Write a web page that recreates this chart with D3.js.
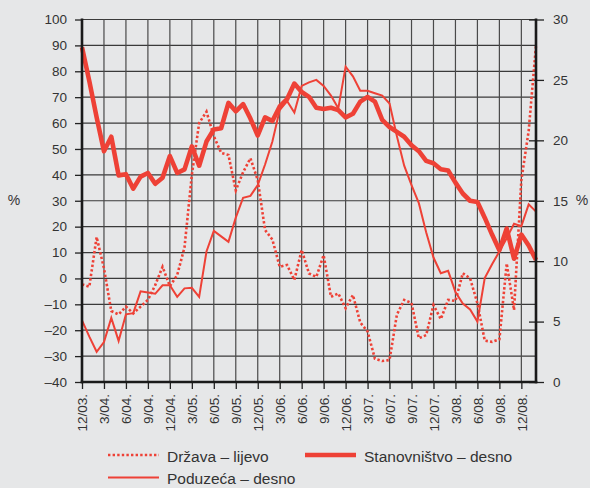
<!DOCTYPE html>
<html>
<head>
<meta charset="utf-8">
<script src="https://cdn.jsdelivr.net/npm/d3@7"></script>
<style>
html,body{margin:0;padding:0;background:#e6e7e8;}
svg{display:block;font-family:"Liberation Sans",Arial,Helvetica,sans-serif;}
</style>
</head>
<body>
<svg id="chart" width="590" height="488"></svg>
<script>
// Months: Dec 2003 .. Feb 2009 (63 monthly observations)
const months = d3.timeMonth.range(new Date(2003, 11, 1), new Date(2009, 2, 1));

// Tick labels (quarterly)
const xTickLabels = ["12/03.","3/04.","6/04.","9/04.","12/04.","3/05.","6/05.","9/05.","12/05.","3/06.","6/06.","9/06.","12/06.","3/07.","6/07.","9/07.","12/07.","3/08.","6/08.","9/08.","12/08."];
const leftTicks = [-40,-30,-20,-10,0,10,20,30,40,50,60,70,80,90,100];
const rightTicks = [0,5,10,15,20,25,30];

// Država – lijevo (left axis, %)
const drzava = [-2.3,-3.2,16,3.9,-12.6,-13.9,-10.9,-13.5,-10.9,-8.3,
  -2.6,4.5,-3,1.3,12,40,60,64.4,55,48.5,
  47.7,34,41,46.4,38,18.7,15,4.5,5.2,-0.6,
  11,1.9,0.6,9,-7.1,-5.8,-11.5,-6.4,-17,-20.5,
  -31,-31.9,-31.5,-14,-8.3,-9.5,-23.1,-21.9,-10.3,-15.7,
  -8.3,-8.7,2,0,-9.6,-24,-24.5,-23.5,5.8,-12.2,
  38,57,90];

// Stanovništvo – desno (right axis, %)
const stanovnistvo = [27.7,24.9,21.9,19.1,20.3,17.1,17.2,16.0,17.0,17.3,
  16.4,16.9,18.7,17.3,17.6,19.5,17.9,19.9,20.9,21.0,
  23.1,22.4,23.0,21.8,20.4,21.9,21.6,22.8,23.4,24.7,
  24.0,23.6,22.7,22.6,22.7,22.5,21.9,22.2,23.2,23.6,
  23.2,21.7,21.1,20.7,20.3,19.6,19.1,18.3,18.1,17.6,
  17.5,16.5,15.6,15.0,14.9,13.6,12.2,10.9,12.7,10.2,
  12.2,11.3,10.1];

// Poduzeća – desno (right axis, %)
const poduzeca = [5.1,3.75,2.5,3.3,5.3,3.4,5.6,5.7,7.5,7.4,
  7.3,8.0,8.0,7.05,7.75,7.8,7.05,10.8,12.5,12.05,
  11.6,13.6,15.25,15.4,16.3,18.0,19.9,22.5,23.25,22.3,
  24.5,24.8,25.0,24.5,23.7,22.65,26.1,25.3,24.1,24.1,
  23.9,23.7,23.05,20.35,17.9,16.3,14.8,12.4,10.3,9.0,
  9.2,7.45,6.5,6.0,5.0,8.6,9.75,10.8,11.9,13.1,
  12.9,14.7,14.1];

const RED = "#ee4136";
const TXT = "#333333";
const svg = d3.select("#chart");

const pL = 82, pR = 536, pT = 19.5, pB = 382;
const x = d3.scaleLinear().domain([0, months.length - 1]).range([pL, pR]);
const yL = d3.scaleLinear().domain([-40, 100]).range([pB, pT]);
const yR = d3.scaleLinear().domain([0, 30]).range([pB, pT]);

const quarterIdx = d3.range(0, months.length, 3).slice(0, xTickLabels.length);

// grid
const grid = svg.append("g");
grid.selectAll("line.h").data(leftTicks.filter(d => d > -40)).join("line")
  .attr("x1", pL).attr("x2", pR)
  .attr("y1", d => yL(d)).attr("y2", d => yL(d))
  .attr("stroke", "#3a3a3a").attr("stroke-width", 1.2);
grid.selectAll("line.v").data(quarterIdx.slice(1)).join("line")
  .attr("x1", d => x(d)).attr("x2", d => x(d))
  .attr("y1", pT).attr("y2", pB)
  .attr("stroke", "#4a4a4a").attr("stroke-width", 1.2);

// axes
const fmt = d => d < 0 ? "\u2013" + Math.abs(d) : String(d);
const gL = svg.append("g").attr("transform", `translate(${pL},0)`)
  .call(d3.axisLeft(yL).tickValues(leftTicks).tickSize(7).tickPadding(8).tickFormat(fmt));
const gR = svg.append("g").attr("transform", `translate(${pR},0)`)
  .call(d3.axisRight(yR).tickValues(rightTicks).tickSize(8).tickPadding(9));
gR.selectAll(".tick line").attr("x1", -7);
const gB = svg.append("g").attr("transform", `translate(0,${pB})`)
  .call(d3.axisBottom(x).tickValues(quarterIdx).tickSize(7).tickFormat((d, i) => xTickLabels[i]));
gB.selectAll(".tick text")
  .attr("transform", "rotate(-90)")
  .attr("text-anchor", "end")
  .attr("x", -12).attr("y", 0).attr("dy", "0.36em");

[gL, gR, gB].forEach(g => {
  g.select(".domain").remove();
  g.selectAll(".tick line").attr("stroke", "#222").attr("stroke-width", 1.3);
  g.selectAll(".tick text").attr("fill", TXT).style("font-size", "13.5px");
});

// series
const lineL = d3.line().x((d, i) => x(i)).y(d => yL(d));
const lineR = d3.line().x((d, i) => x(i)).y(d => yR(d));
svg.append("path").datum(drzava).attr("d", lineL)
  .attr("fill", "none").attr("stroke", RED).attr("stroke-width", 2.6)
  .attr("stroke-dasharray", "2.4,2.2");
svg.append("path").datum(poduzeca).attr("d", lineR)
  .attr("fill", "none").attr("stroke", RED).attr("stroke-width", 2)
  .attr("stroke-linejoin", "miter");
svg.append("path").datum(stanovnistvo).attr("d", lineR)
  .attr("fill", "none").attr("stroke", RED).attr("stroke-width", 4.6)
  .attr("stroke-linejoin", "round");

// frame lines
const frame = svg.append("g").attr("stroke", "#1a1a1a").attr("stroke-width", 2.6);
frame.append("line").attr("x1", pL).attr("x2", pL).attr("y1", pT - 1).attr("y2", pB + 1.3);
frame.append("line").attr("x1", pR).attr("x2", pR).attr("y1", pT - 1).attr("y2", pB + 1.3);
frame.append("line").attr("x1", pL - 1.3).attr("x2", pR + 1.3).attr("y1", pB).attr("y2", pB);

// % labels
svg.append("text").attr("x", 14).attr("y", 200).attr("dy", "0.36em").attr("text-anchor", "middle")
  .attr("fill", TXT).style("font-size", "14px").text("%");
svg.append("text").attr("x", 582).attr("y", 200).attr("dy", "0.36em").attr("text-anchor", "middle")
  .attr("fill", TXT).style("font-size", "14px").text("%");

// legend
const legend = [
  {name: "Država – lijevo", x: 108, y: 455, w: 2.6, dash: "2.4,2.2"},
  {name: "Stanovništvo – desno", x: 305, y: 455, w: 4.6, dash: null},
  {name: "Poduzeća – desno", x: 108, y: 477.5, w: 2, dash: null}
];
const lg = svg.append("g").selectAll("g").data(legend).join("g");
lg.append("line").attr("x1", d => d.x).attr("x2", d => d.x + 51)
  .attr("y1", d => d.y).attr("y2", d => d.y)
  .attr("stroke", RED).attr("stroke-width", d => d.w)
  .attr("stroke-dasharray", d => d.dash);
lg.append("text").attr("x", d => d.x + 59).attr("y", d => d.y + 6.5)
  .attr("fill", TXT).style("font-size", "15.5px").text(d => d.name);
</script>
</body>
</html>
